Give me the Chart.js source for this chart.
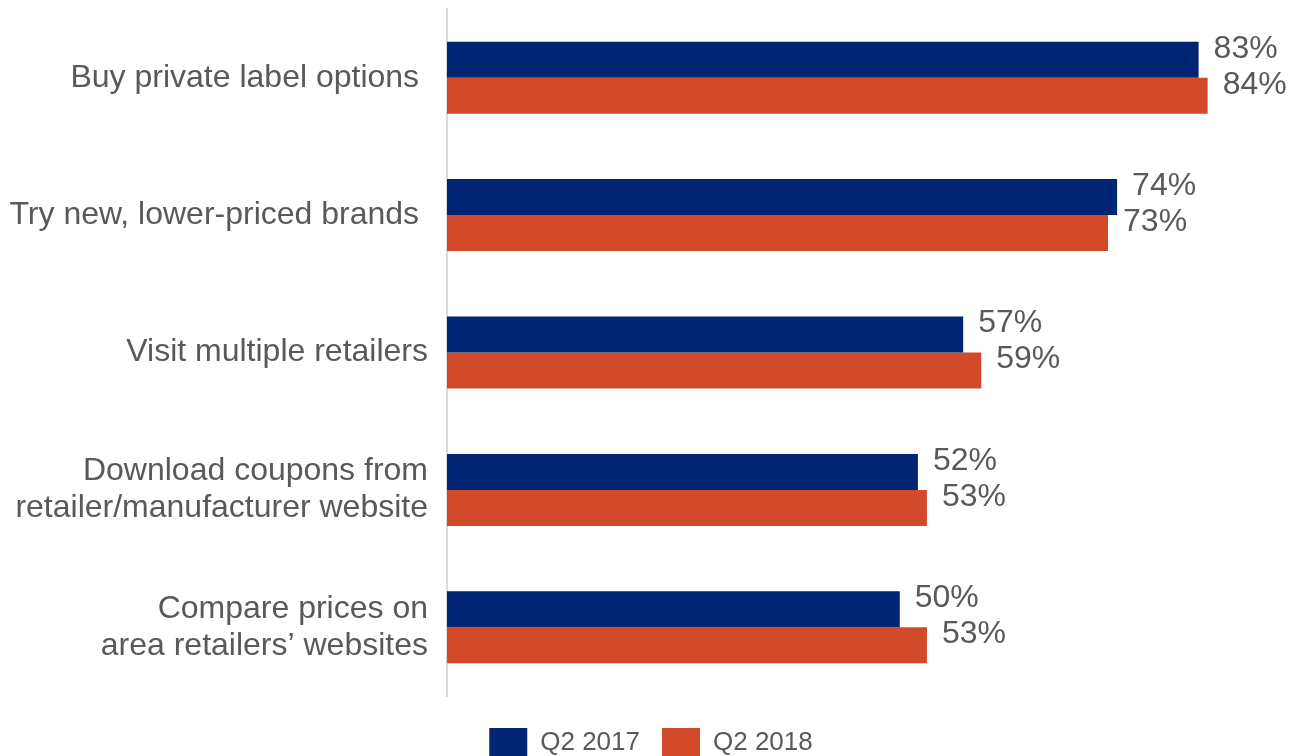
<!DOCTYPE html>
<html>
<head>
<meta charset="utf-8">
<script src="https://cdn.jsdelivr.net/npm/chart.js@4.4.1/dist/chart.umd.min.js"></script>
<style>
    html, body { margin: 0; padding: 0; background: #fff; overflow: hidden; }
    #wrap { width: 1290px; height: 768px; position: relative; }
</style>
</head>
<body>
<div id="wrap"><canvas id="tacticsChart"></canvas></div>
<script>
const categories = [
    'Buy private label options ',
    'Try new, lower-priced brands ',
    'Visit multiple retailers',
    ['Download coupons from', 'retailer/manufacturer website'],
    ['Compare prices on', 'area retailers\u2019 websites']
];
const q2_2017 = [83, 74, 57, 52, 50];
const q2_2018 = [84, 73, 59, 53, 53];

const textGray = '#595959';
const fontFamily = '"Liberation Sans", Arial, sans-serif';

// value labels just past the end of each bar
const valueLabels = {
    id: 'valueLabels',
    afterDatasetsDraw(chart) {
        const ctx = chart.ctx;
        ctx.save();
        ctx.font = '32px ' + fontFamily;
        ctx.fillStyle = textGray;
        ctx.textAlign = 'left';
        ctx.textBaseline = 'middle';
        chart.data.datasets.forEach((ds, i) => {
            chart.getDatasetMeta(i).data.forEach((bar, j) => {
                ctx.fillText(ds.data[j] + '%', bar.x + 15, bar.y - 11);
            });
        });
        ctx.restore();
    }
};

// center the legend on the whole canvas rather than the padded area
const legendShift = {
    id: 'legendShift',
    afterLayout(chart) {
        chart.legend.left += 20;
        chart.legend.right += 20;
    }
};

document.addEventListener('DOMContentLoaded', () => {
    const ctx = document.getElementById('tacticsChart').getContext('2d');

    new Chart(ctx, {
        type: 'bar',
        data: {
            labels: categories,
            datasets: [
                {
                    label: 'Q2 2017',
                    data: q2_2017,
                    backgroundColor: '#002673',
                    categoryPercentage: 0.524,
                    barPercentage: 1.0
                },
                {
                    label: 'Q2 2018',
                    data: q2_2018,
                    backgroundColor: '#d24a2a',
                    categoryPercentage: 0.524,
                    barPercentage: 1.0
                }
            ]
        },
        options: {
            indexAxis: 'y',
            responsive: true,
            maintainAspectRatio: false,
            animation: false,
            layout: {
                padding: { top: 9, right: 28, left: 0, bottom: 0 }
            },
            plugins: {
                legend: {
                    position: 'bottom',
                    // empty title only adds a little room above the items
                    title: {
                        display: true,
                        text: '',
                        font: { size: 8, lineHeight: 1 },
                        padding: { top: 0, bottom: 2 }
                    },
                    labels: {
                        boxWidth: 38,
                        boxHeight: 30,
                        padding: 22,
                        color: textGray,
                        font: { family: fontFamily, size: 26 }
                    }
                },
                tooltip: { enabled: false }
            },
            scales: {
                x: {
                    display: false,
                    min: 0,
                    max: 90
                },
                y: {
                    grid: { display: false, drawTicks: false },
                    border: { display: true, color: '#d9d9d9', width: 2 },
                    ticks: {
                        color: textGray,
                        padding: 19,
                        font: { family: fontFamily, size: 32, lineHeight: 1.15 }
                    },
                    afterFit(scale) {
                        scale.width = 447;
                        scale.paddingTop = 0;
                        scale.paddingBottom = 0;
                    }
                }
            }
        },
        plugins: [valueLabels, legendShift]
    });
});
</script>
</body>
</html>
